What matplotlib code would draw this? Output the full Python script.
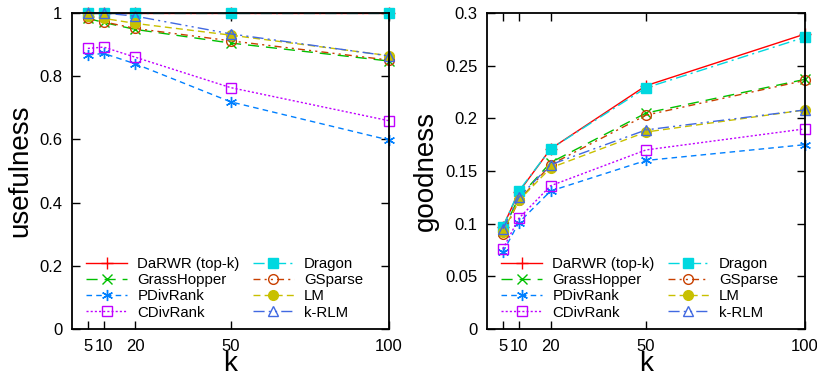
import numpy as np
import matplotlib
matplotlib.use("Agg")
import matplotlib.pyplot as plt

plt.rcParams["font.family"] = ["Liberation Sans", "DejaVu Sans"]

k = [5, 10, 20, 50, 100]
names = ["DaRWR (top-k)", "GrassHopper", "PDivRank", "CDivRank",
         "Dragon", "GSparse", "LM", "k-RLM"]

# usefulness values
use_darwr = [1.0, 1.0, 1.0, 1.0, 1.0]
use_grass = [0.983, 0.970, 0.948, 0.905, 0.848]
use_pdiv = [0.867, 0.872, 0.839, 0.719, 0.598]
use_cdiv = [0.888, 0.892, 0.860, 0.764, 0.659]
use_dragon = [1.0, 1.0, 1.0, 1.0, 1.0]
use_gsparse = [0.983, 0.972, 0.951, 0.912, 0.851]
use_lm = [0.990, 0.983, 0.967, 0.930, 0.865]
use_krlm = [1.0, 1.0, 0.990, 0.934, 0.864]

# goodness values
good_darwr = [0.097, 0.130, 0.171, 0.231, 0.280]
good_grass = [0.093, 0.125, 0.158, 0.205, 0.237]
good_pdiv = [0.073, 0.101, 0.131, 0.160, 0.175]
good_cdiv = [0.076, 0.105, 0.136, 0.170, 0.190]
good_dragon = [0.097, 0.131, 0.171, 0.229, 0.277]
good_gsparse = [0.090, 0.122, 0.156, 0.203, 0.236]
good_lm = [0.092, 0.122, 0.153, 0.187, 0.208]
good_krlm = [0.095, 0.125, 0.156, 0.189, 0.208]

use_all = [use_darwr, use_grass, use_pdiv, use_cdiv,
           use_dragon, use_gsparse, use_lm, use_krlm]
good_all = [good_darwr, good_grass, good_pdiv, good_cdiv,
            good_dragon, good_gsparse, good_lm, good_krlm]

styles = [
    dict(color="#ff0000", ls="-", marker="+", ms=9, mfc="none"),
    dict(color="#00c000", ls=(0, (8, 5)), marker="x", ms=7, mfc="none"),
    dict(color="#0080ff", ls=(0, (4, 3)), marker=(6, 2, 0), ms=8, mfc="none"),
    dict(color="#c000ff", ls=(0, (1.5, 1.5)), marker="s", ms=7, mfc="none"),
    dict(color="#00d8e0", ls=(0, (8, 3, 1.5, 3)), marker="s", ms=7),
    dict(color="#c84000", ls=(0, (5, 3, 1.5, 3, 1.5, 3)), marker="o", ms=7, mfc="none"),
    dict(color="#c8c000", ls=(0, (5, 3)), marker="o", ms=7),
    dict(color="#4169e1", ls=(0, (8, 3, 1.5, 3, 1.5, 3)), marker="^", ms=7, mfc="none"),
]

fig = plt.figure(figsize=(8.17, 3.75), dpi=100)
ax1 = fig.add_axes([72 / 817, 46 / 375, 317 / 817, 316 / 375])
ax2 = fig.add_axes([487 / 817, 46 / 375, 318 / 817, 316 / 375])


def draw(ax, data, ylim, yticks, ylabel):
    for name, vals, st in zip(names, data, styles):
        ax.plot(k, vals, label=name, lw=1.0, clip_on=False, **st)
    ax.set_xlim(0, 100)
    ax.set_ylim(*ylim)
    ax.set_xticks(k)
    ax.set_xticklabels(["5", "10", "20", "50", "100"])
    ax.set_yticks(yticks)
    ax.tick_params(direction="in", length=6, width=1, labelsize=12,
                   top=True, right=True, pad=7)
    for sp in ax.spines.values():
        sp.set_linewidth(1.3)
    ax.set_xlabel("k", fontsize=20, labelpad=-2)
    ax.set_ylabel(ylabel, fontsize=20, labelpad=4)
    ax.legend(ncol=2, loc="lower left", bbox_to_anchor=(0.045, 0.03),
              frameon=False, fontsize=10.8, borderpad=0, borderaxespad=0,
              handlelength=2.7, columnspacing=0.9, labelspacing=0.15,
              handletextpad=0.7)


draw(ax1, use_all, (0, 1), [0, 0.2, 0.4, 0.6, 0.8, 1], "usefulness")
ax1.set_yticklabels(["0", "0.2", "0.4", "0.6", "0.8", "1"])
draw(ax2, good_all, (0, 0.3), [0, 0.05, 0.1, 0.15, 0.2, 0.25, 0.3],
     "goodness")
ax2.set_yticklabels(["0", "0.05", "0.1", "0.15", "0.2", "0.25", "0.3"])

fig.savefig("out.png", dpi=100)
